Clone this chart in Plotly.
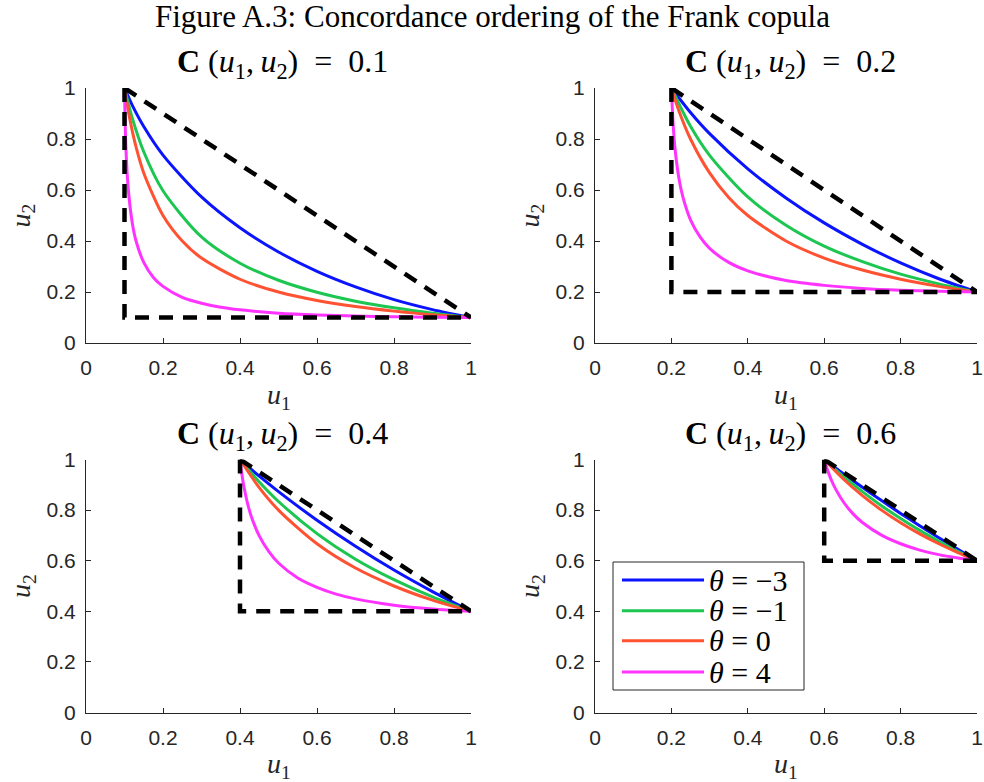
import plotly.graph_objects as go

# ---------------- data ----------------
LEVELS = [0.1, 0.2, 0.4, 0.6]
THETA_LABELS = ["−3", "−1", "0", "4"]
COLORS = ["#0a14ff", "#1cc650", "#ff5232", "#ff33ff"]
TICK_VALS = [0, 0.2, 0.4, 0.6, 0.8, 1]
TICK_TEXT = ["0", "0.2", "0.4", "0.6", "0.8", "1"]

# panel 1 : C = 0.1
p1_u_m3 = [0.1, 0.12, 0.15, 0.2, 0.3, 0.4, 0.5, 0.6, 0.7, 0.8, 0.9, 1.0]
p1_v_m3 = [1.0, 0.933, 0.849, 0.737, 0.573, 0.452, 0.357, 0.281, 0.220, 0.170, 0.131, 0.1]
p1_u_m1 = [0.1, 0.12, 0.15, 0.2, 0.3, 0.4, 0.5, 0.6, 0.7, 0.8, 0.9, 1.0]
p1_v_m1 = [1.0, 0.883, 0.750, 0.597, 0.416, 0.313, 0.246, 0.199, 0.164, 0.138, 0.117, 0.1]
p1_u_0 = [0.1, 0.11, 0.12, 0.13, 0.15, 0.2, 0.25, 0.3, 0.4, 0.5, 0.6, 0.7, 0.8, 0.9, 1.0]
p1_v_0 = [1.0, 0.909, 0.833, 0.769, 0.667, 0.5, 0.4, 0.333, 0.25, 0.2, 0.167, 0.143, 0.125, 0.111, 0.1]
p1_u_4 = [0.1, 0.102, 0.105, 0.11, 0.12, 0.13, 0.15, 0.175, 0.2, 0.25, 0.3, 0.35, 0.4, 0.5, 0.6, 0.7, 0.8, 0.9, 1.0]
p1_v_4 = [1.0, 0.846, 0.719, 0.600, 0.473, 0.400, 0.316, 0.257, 0.222, 0.179, 0.156, 0.140, 0.130, 0.117, 0.110, 0.106, 0.103, 0.101, 0.1]

# panel 2 : C = 0.2
p2_u_m3 = [0.2, 0.25, 0.3, 0.4, 0.5, 0.6, 0.7, 0.8, 0.9, 1.0]
p2_v_m3 = [1.0, 0.904, 0.821, 0.683, 0.569, 0.471, 0.387, 0.314, 0.252, 0.2]
p2_u_m1 = [0.2, 0.25, 0.3, 0.4, 0.5, 0.6, 0.7, 0.8, 0.9, 1.0]
p2_v_m1 = [1.0, 0.850, 0.736, 0.573, 0.462, 0.380, 0.319, 0.270, 0.232, 0.2]
p2_u_0 = [0.2, 0.22, 0.25, 0.3, 0.35, 0.4, 0.5, 0.6, 0.7, 0.8, 0.9, 1.0]
p2_v_0 = [1.0, 0.909, 0.8, 0.667, 0.571, 0.5, 0.4, 0.333, 0.286, 0.25, 0.222, 0.2]
p2_u_4 = [0.2, 0.205, 0.21, 0.22, 0.23, 0.25, 0.275, 0.3, 0.35, 0.4, 0.5, 0.6, 0.7, 0.8, 0.9, 1.0]
p2_v_4 = [1.0, 0.846, 0.755, 0.643, 0.573, 0.483, 0.416, 0.371, 0.316, 0.283, 0.245, 0.226, 0.214, 0.207, 0.203, 0.2]

# panel 3 : C = 0.4
p3_u_m3 = [0.4, 0.45, 0.5, 0.6, 0.7, 0.8, 0.9, 1.0]
p3_v_m3 = [1.0, 0.934, 0.873, 0.760, 0.657, 0.563, 0.478, 0.4]
p3_u_m1 = [0.4, 0.45, 0.5, 0.6, 0.7, 0.8, 0.9, 1.0]
p3_v_m1 = [1.0, 0.911, 0.834, 0.707, 0.606, 0.525, 0.457, 0.4]
p3_u_0 = [0.4, 0.45, 0.5, 0.6, 0.7, 0.8, 0.9, 1.0]
p3_v_0 = [1.0, 0.889, 0.8, 0.667, 0.571, 0.5, 0.444, 0.4]
p3_u_4 = [0.4, 0.405, 0.41, 0.42, 0.43, 0.45, 0.475, 0.5, 0.55, 0.6, 0.65, 0.7, 0.8, 0.9, 1.0]
p3_v_4 = [1.0, 0.941, 0.894, 0.824, 0.772, 0.698, 0.636, 0.591, 0.532, 0.495, 0.468, 0.449, 0.424, 0.409, 0.4]

# panel 4 : C = 0.6
p4_u_m3 = [0.6, 0.65, 0.7, 0.75, 0.8, 0.85, 0.9, 0.95, 1.0]
p4_v_m3 = [1.0, 0.944, 0.890, 0.838, 0.787, 0.738, 0.691, 0.645, 0.6]
p4_u_m1 = [0.6, 0.65, 0.7, 0.75, 0.8, 0.85, 0.9, 0.95, 1.0]
p4_v_m1 = [1.0, 0.933, 0.873, 0.817, 0.767, 0.720, 0.677, 0.637, 0.6]
p4_u_0 = [0.6, 0.65, 0.7, 0.75, 0.8, 0.85, 0.9, 0.95, 1.0]
p4_v_0 = [1.0, 0.923, 0.857, 0.8, 0.75, 0.706, 0.667, 0.632, 0.6]
p4_u_4 = [0.6, 0.605, 0.61, 0.62, 0.63, 0.65, 0.675, 0.7, 0.75, 0.8, 0.85, 0.9, 0.95, 1.0]
p4_v_4 = [1.0, 0.975, 0.953, 0.914, 0.883, 0.833, 0.786, 0.751, 0.701, 0.667, 0.642, 0.624, 0.611, 0.6]

PANELS = [
    [(p1_u_m3, p1_v_m3), (p1_u_m1, p1_v_m1), (p1_u_0, p1_v_0), (p1_u_4, p1_v_4)],
    [(p2_u_m3, p2_v_m3), (p2_u_m1, p2_v_m1), (p2_u_0, p2_v_0), (p2_u_4, p2_v_4)],
    [(p3_u_m3, p3_v_m3), (p3_u_m1, p3_v_m1), (p3_u_0, p3_v_0), (p3_u_4, p3_v_4)],
    [(p4_u_m3, p4_v_m3), (p4_u_m1, p4_v_m1), (p4_u_0, p4_v_0), (p4_u_4, p4_v_4)],
]

# ---------------- layout helpers ----------------
W, H = 984, 782
SERIF = "Liberation Serif, Times New Roman, serif"
SANS = "Liberation Sans, Arial, sans-serif"
AX = "#262626"
SP = "\u2009"  # thin space

def px_x(p):
    return p / W

def px_y(p):
    return 1 - p / H

# pixel boxes of the four axes (left, right, top, bottom)
BOXES = [(86, 471, 88, 343), (595, 977, 88, 343), (86, 471, 459.5, 712.5), (595, 977, 459.5, 712.5)]

fig = go.Figure()

for i, (curves, c) in enumerate(zip(PANELS, LEVELS)):
    xa = "x" if i == 0 else f"x{i+1}"
    ya = "y" if i == 0 else f"y{i+1}"
    for (u, v), col, lab in zip(curves, COLORS, THETA_LABELS):
        fig.add_trace(go.Scatter(x=u, y=v, mode="lines", xaxis=xa, yaxis=ya,
                                 line=dict(color=col, width=3, shape="spline", smoothing=0.8),
                                 name=f"θ = {lab}", showlegend=False, hoverinfo="skip"))
    # Frechet bounds (dashed): W-bound diagonal and M-bound corner
    fig.add_trace(go.Scatter(x=[c, 1], y=[1, c], mode="lines", xaxis=xa, yaxis=ya,
                             line=dict(color="black", width=4.5, dash="14px,10px"),
                             showlegend=False, hoverinfo="skip"))
    fig.add_trace(go.Scatter(x=[c, c, 1], y=[1, c, c], mode="lines", xaxis=xa, yaxis=ya,
                             line=dict(color="black", width=4.5, dash="14px,10px"),
                             showlegend=False, hoverinfo="skip"))

axis_common = dict(range=[0, 1], showline=True, linecolor=AX, linewidth=1, mirror=False,
                   ticks="inside", ticklen=5, tickwidth=1, tickcolor=AX,
                   tickvals=TICK_VALS, ticktext=TICK_TEXT, ticklabeloverflow="allow",
                   tickfont=dict(family=SANS, size=21, color=AX),
                   showgrid=False, zeroline=False, fixedrange=True, automargin=False)

layout = dict(width=W, height=H, margin=dict(l=0, r=0, t=0, b=0, autoexpand=False),
              paper_bgcolor="white", plot_bgcolor="white", showlegend=False)

annotations = []
shapes = []
for i, (l, r, t, b) in enumerate(BOXES):
    sx = "xaxis" if i == 0 else f"xaxis{i+1}"
    sy = "yaxis" if i == 0 else f"yaxis{i+1}"
    an_y = "y" if i == 0 else f"y{i+1}"
    an_x = "x" if i == 0 else f"x{i+1}"
    layout[sx] = dict(axis_common, domain=[px_x(l), px_x(r)], anchor=an_y, ticklabelstandoff=6)
    layout[sy] = dict(axis_common, domain=[px_y(b), px_y(t)], anchor=an_x, ticklabelstandoff=5)
    cx = (l + r) / 2
    # subplot title
    annotations.append(dict(x=px_x(cx + 4), y=px_y(t - 24), xref="paper", yref="paper",
                            text=f"<b>C</b> (<i>u</i><sub>1</sub>,{SP}<i>u</i><sub>2</sub>)  =  {LEVELS[i]}",
                            showarrow=False, xanchor="center", yanchor="middle",
                            font=dict(family=SERIF, size=32, color="black")))
    # x axis title
    annotations.append(dict(x=px_x(cx), y=px_y(b + 53), xref="paper", yref="paper",
                            text="<i>u</i><sub>1</sub>", showarrow=False,
                            xanchor="center", yanchor="middle",
                            font=dict(family=SERIF, size=28, color=AX)))
    # y axis title
    annotations.append(dict(x=px_x(l - 64), y=px_y((t + b) / 2), xref="paper", yref="paper",
                            text="<i>u</i><sub>2</sub>", showarrow=False, textangle=-90,
                            xanchor="center", yanchor="middle",
                            font=dict(family=SERIF, size=28, color=AX)))

# figure title
annotations.append(dict(x=px_x(492), y=px_y(16), xref="paper", yref="paper",
                        text="Figure A.3: Concordance ordering of the Frank copula",
                        showarrow=False, xanchor="center", yanchor="middle",
                        font=dict(family=SERIF, size=31, color="black")))

# legend (drawn in the fourth panel)
leg_l, leg_r, leg_t, leg_b = 613, 804, 562, 690
shapes.append(dict(type="rect", xref="paper", yref="paper",
                   x0=px_x(leg_l), x1=px_x(leg_r), y0=px_y(leg_b), y1=px_y(leg_t),
                   line=dict(color=AX, width=1), fillcolor="white", layer="above"))
row_y = [580, 610.7, 640.7, 672]
for yy, col, lab in zip(row_y, COLORS, THETA_LABELS):
    shapes.append(dict(type="line", xref="paper", yref="paper",
                       x0=px_x(622), x1=px_x(704), y0=px_y(yy), y1=px_y(yy),
                       line=dict(color=col, width=3), layer="above"))
    annotations.append(dict(x=px_x(707), y=px_y(yy), xref="paper", yref="paper",
                            text=f"<i>θ</i> = {lab}", showarrow=False,
                            xanchor="left", yanchor="middle",
                            font=dict(family=SERIF, size=30, color="black")))

layout["annotations"] = annotations
layout["shapes"] = shapes
fig.update_layout(**layout)

# remove the default 8px page margin so the figure fills the window exactly
fig.write_html("out.html", config={"displayModeBar": False},
               post_script="document.body.style.margin='0';document.body.style.overflow='hidden';")
